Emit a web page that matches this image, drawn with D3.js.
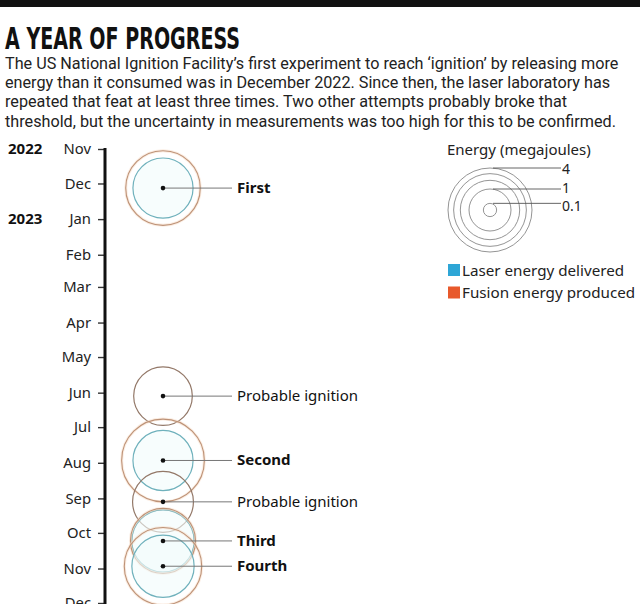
<!DOCTYPE html>
<html><head><meta charset="utf-8">
<script src="https://cdn.jsdelivr.net/npm/d3@7/dist/d3.min.js"></script>
<style>body{margin:0;background:#fff}svg{display:block}</style>
</head><body>
<script>
const title = "A YEAR OF PROGRESS";
const subtitle = [
  "The US National Ignition Facility\u2019s first experiment to reach \u2018ignition\u2019 by releasing more",
  "energy than it consumed was in December 2022. Since then, the laser laboratory has",
  "repeated that feat at least three times. Two other attempts probably broke that",
  "threshold, but the uncertainty in measurements was too high for this to be confirmed."
];
const eventDates = ["2022-12-05","2023-06-04","2023-07-30","2023-09-04","2023-10-08","2023-10-30"];
const eventLabels = ["First","Probable ignition","Second","Probable ignition","Third","Fourth"];
const confirmed = [true,false,true,false,true,true];
const laserMJ = [2.05,null,2.05,null,2.2,2.2];
const fusionMJ = [3.15,1.95,3.88,2.1,2.4,3.4];
const yearLabels = ["2022","2023"];
const yearDates = ["2022-11-01","2023-01-01"];
const legendRings = [4,3,2,1,0.1];
const legendLabelled = [4,1,0.1];
const legendItems = ["Laser energy delivered","Fusion energy produced"];

const W=640,H=604;
const svg=d3.select("body").append("svg").attr("width",W).attr("height",H);
const parse=d3.utcParse("%Y-%m-%d");
const y=d3.scaleUtc().domain([parse("2022-11-01"),parse("2023-12-01")]).range([149,603]);
const r=d3.scaleSqrt().domain([0,4]).range([0,42]);
const font="Roboto, 'Noto Sans', sans-serif";

svg.append("rect").attr("x",0).attr("y",0).attr("width",W).attr("height",7).attr("fill","#111");
svg.append("text").attr("x",5).attr("y",49).text(title)
  .attr("font-family","'Liberation Sans Narrow','DejaVu Sans Condensed',sans-serif")
  .attr("font-weight",700).attr("font-size",31).attr("fill","#111")
  .attr("textLength",235).attr("lengthAdjust","spacingAndGlyphs");
svg.append("g").selectAll("text").data(subtitle).join("text")
  .attr("x",5).attr("y",(d,i)=>69+i*19.2).text(d=>d)
  .attr("font-family",font).attr("font-size",16.2).attr("fill","#222");

// axis
const axisX=105;
const ax=svg.append("g").attr("transform",`translate(${axisX},0)`)
  .call(d3.axisLeft(y).ticks(d3.utcMonth.every(1)).tickFormat(d3.utcFormat("%b")).tickSize(7).tickPadding(7));
ax.select(".domain").remove();
ax.selectAll(".tick line").attr("stroke","#333").attr("stroke-width",1.4);
ax.selectAll(".tick text").attr("font-family","'Noto Sans', sans-serif").attr("font-size",14.8).attr("fill","#222");
svg.append("line").attr("x1",axisX).attr("x2",axisX).attr("y1",y.range()[0]-1).attr("y2",H+5)
  .attr("stroke","#111").attr("stroke-width",3);
svg.append("g").selectAll("text").data(yearLabels).join("text")
  .attr("x",8).attr("y",(d,i)=>y(parse(yearDates[i]))+5).text(d=>d)
  .attr("font-family","'Noto Sans', sans-serif").attr("font-weight",700).attr("font-size",15).attr("fill","#111");

// events
const cx=163;
const ev=eventDates.map((d,i)=>({date:parse(d),label:eventLabels[i],conf:confirmed[i],laser:laserMJ[i],fusion:fusionMJ[i]}));
const g=svg.append("g");
ev.forEach(e=>{
  const cy=y(e.date);
  if(e.laser!=null){
    g.append("circle").attr("cx",cx).attr("cy",cy).attr("r",r(e.laser))
      .attr("fill","#f2fbfc").attr("fill-opacity",0.6).attr("stroke","#6fb1bc").attr("stroke-width",1.2);
  }
  if(e.conf){
    g.append("circle").attr("cx",cx).attr("cy",cy).attr("r",r(e.fusion))
      .attr("fill","none").attr("stroke","#f8dcc6").attr("stroke-width",3).attr("stroke-opacity",0.5);
    g.append("circle").attr("cx",cx).attr("cy",cy).attr("r",r(e.fusion))
      .attr("fill","none").attr("stroke","#bd9277").attr("stroke-width",1.1);
  } else {
    g.append("circle").attr("cx",cx).attr("cy",cy).attr("r",r(e.fusion))
      .attr("fill","none").attr("stroke","#937868").attr("stroke-width",1.2);
  }
});
ev.forEach(e=>{
  const cy=y(e.date);
  g.append("line").attr("x1",cx).attr("x2",232).attr("y1",cy).attr("y2",cy).attr("stroke","#777").attr("stroke-width",1);
  g.append("circle").attr("cx",cx).attr("cy",cy).attr("r",2.3).attr("fill","#111");
  g.append("text").attr("x",237).attr("y",cy+5).text(e.label)
    .attr("font-family","'Noto Sans', sans-serif").attr("font-size",15)
    .attr("font-weight",e.conf?700:400).attr("fill","#111");
});

// legend
const lx=490, ly=210;
svg.append("text").attr("x",447).attr("y",155).text("Energy (megajoules)")
  .attr("font-family","'Noto Sans', sans-serif").attr("font-size",15).attr("fill","#222");
svg.append("g").selectAll("circle").data(legendRings).join("circle")
  .attr("cx",lx).attr("cy",ly).attr("r",d=>r(d)).attr("fill","none").attr("stroke","#888").attr("stroke-width",0.9);
const ll=svg.append("g").selectAll("g").data(legendLabelled).join("g");
ll.append("line").attr("x1",lx+3).attr("x2",561).attr("y1",d=>ly-r(d)).attr("y2",d=>ly-r(d)).attr("stroke","#555").attr("stroke-width",0.9);
ll.append("text").attr("x",562).attr("y",(d,i)=>ly-r(d)+[6,4,8][i]).text(d=>d)
  .attr("font-family","'Noto Sans', sans-serif").attr("font-size",14).attr("fill","#222");
const legColors=["#2ea6d6","#e8592b"];
const li=svg.append("g").selectAll("g").data(legendItems).join("g")
  .attr("transform",(d,i)=>`translate(448,${264+i*22.5})`);
li.append("rect").attr("width",12).attr("height",12).attr("fill",(d,i)=>legColors[i]);
li.append("text").attr("x",14).attr("y",11.5).text(d=>d)
  .attr("font-family","'Noto Sans', sans-serif").attr("font-size",15.2).attr("fill","#222");
</script>
</body></html>
